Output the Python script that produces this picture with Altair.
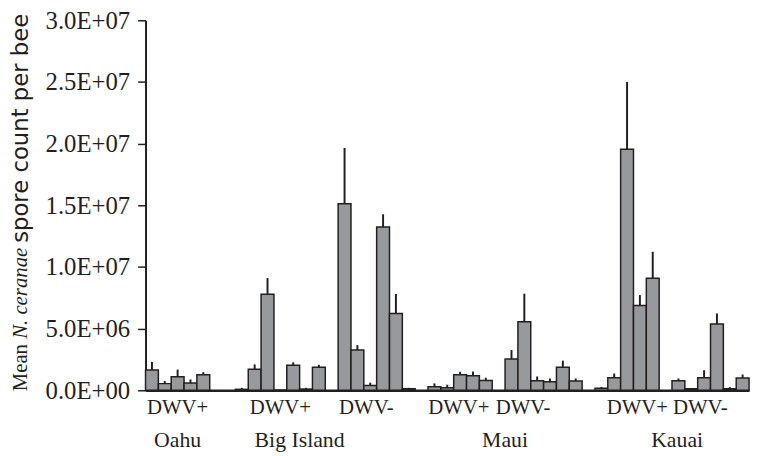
import altair as alt
import pandas as pd

# ---- data (values in millions of spores per bee) ----
group_status = ["DWV+", "DWV+", "DWV-", "DWV+", "DWV-", "DWV+", "DWV-"]
group_island = ["Oahu", "Big Island", "Big Island", "Maui", "Maui", "Kauai", "Kauai"]
islands = ["Oahu", "Big Island", "Maui", "Kauai"]

means = [
    [1.65, 0.54, 1.10, 0.59, 1.26],
    [0.08, 1.70, 7.78, 0.02, 2.03, 0.10, 1.87],
    [15.13, 3.26, 0.38, 13.23, 6.23, 0.13],
    [0.29, 0.21, 1.26, 1.18, 0.80],
    [2.54, 5.56, 0.78, 0.70, 1.87, 0.75],
    [0.16, 1.02, 19.54, 6.87, 9.09],
    [0.78, 0.13, 1.02, 5.37, 0.13, 0.99],
]
ses = [
    [0.65, 0.21, 0.58, 0.29, 0.21],
    [0.12, 0.40, 1.32, 0.00, 0.24, 0.10, 0.19],
    [4.52, 0.40, 0.24, 1.04, 1.57, 0.07],
    [0.27, 0.24, 0.24, 0.34, 0.22],
    [0.72, 2.27, 0.34, 0.26, 0.53, 0.21],
    [0.10, 0.34, 5.46, 0.85, 2.14],
    [0.18, 0.00, 0.61, 0.86, 0.13, 0.29],
]
y_ticks = [0, 5e6, 1e7, 1.5e7, 2e7, 2.5e7, 3e7]

# ---- layout helpers (empty slots between groups) ----
gap_before = [0, 2, 1, 1, 1, 1, 1]
status_nudge = [0, 0, -0.8, -0.1, -1.6, 0.8, -0.8]
island_nudge = {"Oahu": 0, "Big Island": -2.0, "Maui": 0, "Kauai": 0.4}

rows, grp_rows = [], []
slot = 0
for g, (m, s) in enumerate(zip(means, ses)):
    slot += gap_before[g]
    start = slot
    for v, e in zip(m, s):
        rows.append({"x0": slot, "x1": slot + 1, "xc": slot + 0.5,
                     "mean": v * 1e6, "top": (v + e) * 1e6, "grp": g})
        slot += 1
    grp_rows.append({"g": g, "start": start, "end": slot})
n_slots = slot

df = pd.DataFrame(rows)
lab = pd.DataFrame([{"xc": (r["start"] + r["end"]) / 2 + status_nudge[r["g"]],
                     "t": group_status[r["g"]]} for r in grp_rows])
isl = []
for name in islands:
    gs = [r for r in grp_rows if group_island[r["g"]] == name]
    c = (gs[0]["start"] + gs[-1]["end"]) / 2 + island_nudge[name]
    isl.append({"xc": c, "t": name})
isl = pd.DataFrame(isl)

W, H = 610, 374
ink = "#231f20"
serif = "Liberation Serif, Times New Roman, serif"
sans = "DejaVu Sans, Verdana, sans-serif"

xscale = alt.Scale(domain=[0, n_slots], nice=False, zero=False)
yscale = alt.Scale(domain=[0, 3e7], nice=False)

base = alt.Chart(df)
bars = base.mark_bar(fill="#98999c", stroke=ink, strokeWidth=1.5).encode(
    x=alt.X("x0:Q", scale=xscale,
            axis=alt.Axis(labels=False, ticks=False, grid=False, title=None,
                          domainColor=ink, domainWidth=2.5)),
    x2="x1:Q",
    y=alt.Y("mean:Q", scale=yscale,
            axis=alt.Axis(values=y_ticks, grid=False, title=None,
                          labelExpr="replace(format(datum.value, '.1e'), 'e+', 'E+0')",
                          labelFont=serif, labelFontSize=25, labelColor=ink,
                          labelPadding=8, tickSize=8, tickColor=ink, tickWidth=1.5,
                          domainColor=ink, domainWidth=2)),
    y2=alt.datum(0),
)
err = base.mark_rule(color=ink, strokeWidth=2).encode(
    x=alt.X("xc:Q", scale=xscale),
    y=alt.Y("top:Q", scale=yscale),
    y2="mean:Q",
)
status_txt = alt.Chart(lab).mark_text(font=serif, fontSize=21, color=ink,
                                      baseline="middle").encode(
    x=alt.X("xc:Q", scale=xscale), y=alt.value(392), text="t:N")
island_txt = alt.Chart(isl).mark_text(font=serif, fontSize=22, color=ink,
                                      baseline="middle").encode(
    x=alt.X("xc:Q", scale=xscale), y=alt.value(424), text="t:N")

def title_piece(t, y, font, style, size):
    return alt.Chart(pd.DataFrame({"t": [t]})).mark_text(
        angle=270, align="left", baseline="middle", font=font, fontSize=size,
        fontStyle=style, color=ink).encode(
        x=alt.value(-126), y=alt.value(y), text="t:N")

t1 = title_piece("Mean", 375, serif, "normal", 21)
t2 = title_piece("N. ceranae", 322, serif, "italic", 21)
t3 = title_piece("spore count per bee", 225, sans, "normal", 23)

chart = alt.layer(bars, err, status_txt, island_txt, t1, t2, t3).properties(
    width=W, height=H,
    autosize=alt.AutoSizeParams(type="none"),
    padding={"left": 139, "top": 10, "right": 4, "bottom": 62},
).configure_view(stroke=None)

chart.save("out.html", embed_options={"renderer": "svg", "actions": False})
